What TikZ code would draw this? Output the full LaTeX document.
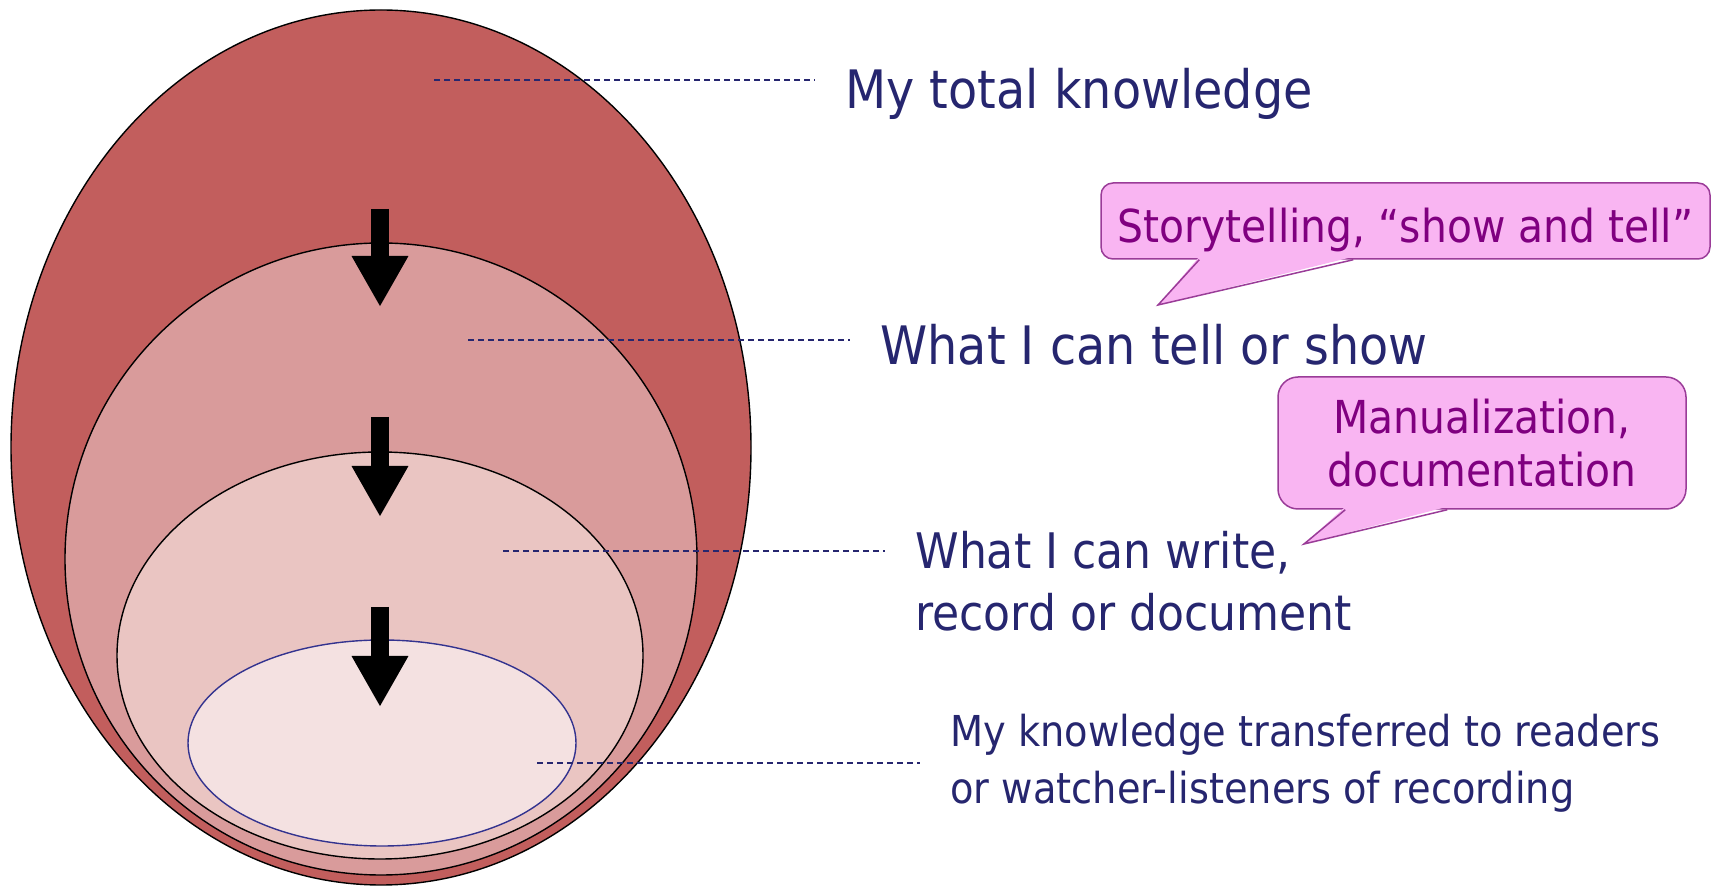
\documentclass[tikz,border=0pt]{standalone}
\usepackage{fontspec}
\setmainfont{DejaVu Sans}[FakeStretch=0.9]
\usepackage{tikz}
\usetikzlibrary{shapes,arrows.meta,calc,positioning}
\definecolor{knowA}{HTML}{C25E5D}
\definecolor{knowB}{HTML}{D99B9B}
\definecolor{knowC}{HTML}{EAC5C2}
\definecolor{knowD}{HTML}{F4E1E1}
\definecolor{navy}{HTML}{26266F}
\definecolor{ringblue}{HTML}{33338F}
\definecolor{bubblefill}{HTML}{F9B5F2}
\definecolor{bubbleline}{HTML}{9A3C98}
\definecolor{bubbletext}{HTML}{800080}

\begin{document}
\begin{tikzpicture}[x=0.5pt,y=-0.5pt]
      \tikzstyle{layer}=[ellipse,draw=black,line width=0.7pt,inner sep=0pt]
      \tikzstyle{leader}=[draw=navy,line width=0.75pt,dash pattern=on 3pt off 2pt,shorten >=15pt]
      \tikzstyle{caption}=[text=navy,anchor=base west,inner sep=0pt,align=left,font=\fontsize{26.5}{31}\selectfont]
      \tikzstyle{bubble}=[draw=bubbleline,fill=bubblefill,line width=0.75pt,text=bubbletext,font=\fontsize{22.7}{26.5}\selectfont]
      \tikzstyle{tail}=[draw=bubbleline,fill=bubblefill,line width=0.75pt,line join=miter]
      \tikzstyle{drop}=[line width=9pt,-{Triangle[width=26.5pt,length=25.5pt]}]
      \useasboundingbox (0,0) rectangle (1713,886);
      % nested regions
      \node[layer,fill=knowA,minimum width=370pt,minimum height=437.5pt] (total) at (381,447.5) {};
      \node[layer,fill=knowB,minimum width=316pt,minimum height=316pt] (tell) at (381,559) {};
      \node[layer,fill=knowC,minimum width=263pt,minimum height=203.5pt] (write) at (380,655.5) {};
      \node[layer,draw=ringblue,fill=knowD,minimum width=194pt,minimum height=103pt] (reach) at (382,743) {};
      % arrows down
      \coordinate (a1) at (380,209);
      \coordinate (a2) at (380,417);
      \coordinate (a3) at (380,607);
      \draw[drop] (a1) -- ++(0,98);
      \draw[drop] (a2) -- ++(0,100);
      \draw[drop] (a3) -- ++(0,100);
      % texts (base of last line)
      \node[caption] (tot) at (845,109) {My total knowledge};
      \node[caption] (show) at (880,365) {What I can tell or show};
      \node[caption,font=\fontsize{24.5}{31}\selectfont] (rec) at (915,631) {What I can write,\\record or document};
      \node[caption,font=\fontsize{21.3}{28.5}\selectfont] (trans) at (950,804) {My knowledge transferred to readers\\or watcher-listeners of recording};
      % leaders
      \coordinate (p1) at (434,80);
      \coordinate (p2) at (468,340);
      \coordinate (p3) at (503,551);
      \coordinate (p4) at (537,763);
      \draw[leader] (p1) -- (p1 -| tot.west);
      \draw[leader] (p2) -- (p2 -| show.west);
      \draw[leader] (p3) -- (p3 -| rec.west);
      \draw[leader] (p4) -- (p4 -| trans.west);
      % callouts
      \node[bubble,rounded corners=6pt,minimum width=304.5pt,inner ysep=2pt,text height=28pt,text depth=6pt] (story) at (1405.5,221) {Storytelling, “show and tell”};
      \coordinate (tip1) at (1158,305);
      \fill[bubblefill] ($(story.south west)+(99,-3)$) -- (tip1) -- ($(story.south west)+(253,-3)$) -- cycle;
      \draw[tail,fill=none] ($(story.south west)+(99,0)$) -- (tip1) -- ($(story.south west)+(253,0)$);
      \node[bubble,rounded corners=10pt,minimum width=204pt,minimum height=66pt,align=center] (manual) at (1482,443) {Manualization,\\documentation};
      \coordinate (tip2) at (1304,544);
      \fill[bubblefill] ($(manual.south west)+(68,-3)$) -- (tip2) -- ($(manual.south west)+(170,-3)$) -- cycle;
      \draw[tail,fill=none] ($(manual.south west)+(68,0)$) -- (tip2) -- ($(manual.south west)+(170,0)$);
\end{tikzpicture}
\end{document}
